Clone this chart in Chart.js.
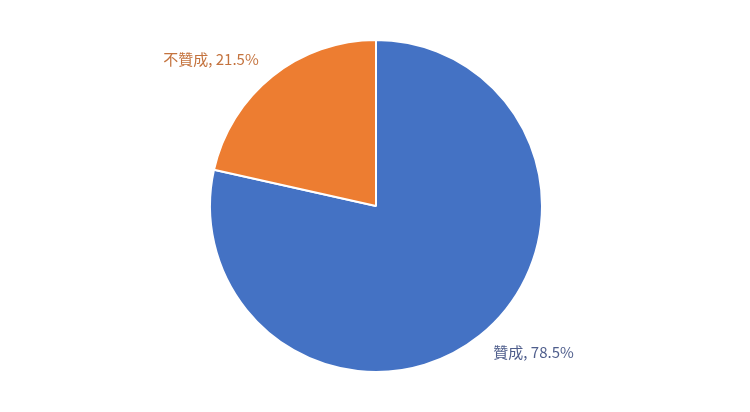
<!DOCTYPE html>
<html>
<head>
<meta charset="utf-8">
<script src="https://cdn.jsdelivr.net/npm/chart.js@4"></script>
<style>
  body { margin: 0; background: #fff; }
  #wrap { width: 750px; height: 412px; }
</style>
</head>
<body>
<div id="wrap"><canvas id="pie-chart" width="750" height="412"></canvas></div>
<script>
const categories = ["贊成", "不贊成"];
const percents = [78.5, 21.5];
const sliceColors = ["#4472C4", "#ED7D31"];
const labelColors = ["#4F5E8C", "#C4733E"];

// labels outside the slices, like Excel's "best fit" data labels
const outsideLabels = {
  id: "outsideLabels",
  afterDatasetsDraw(chart) {
    const ctx = chart.ctx;
    const meta = chart.getDatasetMeta(0);
    ctx.save();
    ctx.font = '15px "Noto Sans CJK TC", sans-serif';
    ctx.textBaseline = "middle";
    meta.data.forEach((arc, i) => {
      const { x, y, startAngle, endAngle, outerRadius } = arc.getProps(
        ["x", "y", "startAngle", "endAngle", "outerRadius"],
        true
      );
      const mid = (startAngle + endAngle) / 2;
      const r = outerRadius * 1.13;
      const lx = x + Math.cos(mid) * r;
      const ly = y + Math.sin(mid) * r;
      ctx.textAlign = Math.cos(mid) >= 0 ? "left" : "right";
      ctx.fillStyle = labelColors[i];
      ctx.fillText(`${categories[i]}, ${percents[i].toFixed(1)}%`, lx, ly);
    });
    ctx.restore();
  },
};

new Chart(document.getElementById("pie-chart"), {
  type: "pie",
  data: {
    labels: categories,
    datasets: [
      {
        data: percents,
        backgroundColor: sliceColors,
        borderColor: "#ffffff",
        borderWidth: 2,
      },
    ],
  },
  options: {
    responsive: false,
    animation: false,
    layout: { padding: { top: 39, bottom: 39, left: 2, right: 0 } },
    plugins: {
      legend: { display: false },
      tooltip: { enabled: false },
    },
  },
  plugins: [outsideLabels],
});
</script>
</body>
</html>
